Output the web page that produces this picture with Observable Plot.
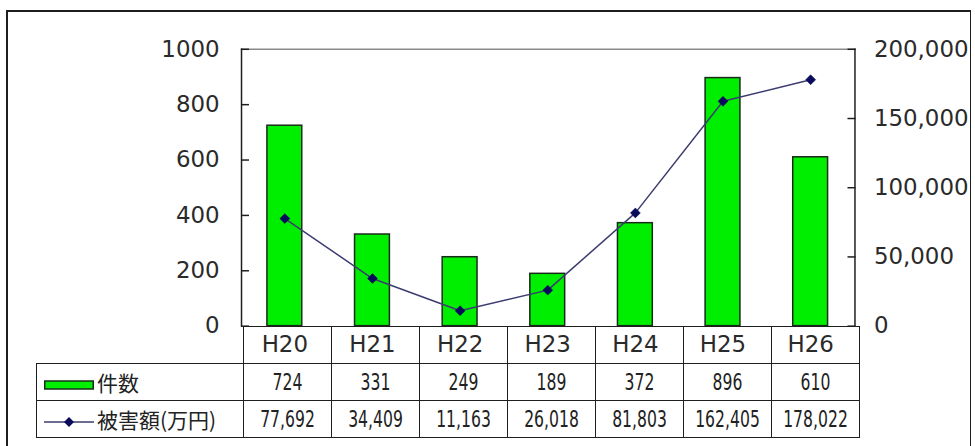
<!DOCTYPE html>
<html>
<head>
<meta charset="utf-8">
<script src="https://cdn.jsdelivr.net/npm/d3@7"></script>
<script src="https://cdn.jsdelivr.net/npm/@observablehq/plot@0.6"></script>
<style>
  html, body { margin: 0; padding: 0; background: #fff; }
  #wrap { position: relative; width: 971px; height: 446px; overflow: hidden; background: #fff; }
  #border { position: absolute; left: 6px; top: 10px; width: 966px; height: 460px; border: 2px solid #1e1e1e; box-sizing: border-box; pointer-events: none; }
  #chart { position: absolute; left: 0; top: 0; }
  #tbl { position: absolute; left: 36px; top: 326px; width: 823px; border-collapse: collapse; table-layout: fixed; }
  #tbl td { border: 1.5px solid #1e1e1e; height: 36px; padding: 0; text-align: center; vertical-align: middle;
            font-family: "DejaVu Sans", sans-serif; font-size: 23px; color: #222; white-space: nowrap; overflow: visible; }
  #tbl td span.n { display: block; margin: 0 -24px; text-align: center; transform: scaleX(0.68); transform-origin: center; }
  #tbl td.blank { border-top: none; border-left: none; }
  #tbl td.lg { text-align: left; padding-left: 7px; font-family: "Noto Sans CJK JP", sans-serif; font-size: 21px; }
  #tbl td.lg svg { vertical-align: middle; margin-right: 3px; }
</style>
</head>
<body>
<div id="wrap">
  <div id="chart"></div>
  <table id="tbl"></table>
  <div id="border"></div>
</div>
<script>
const years = ["H20", "H21", "H22", "H23", "H24", "H25", "H26"];
const counts = [724, 331, 249, 189, 372, 896, 610];
const damages = [77692, 34409, 11163, 26018, 81803, 162405, 178022];
const countTicks = [0, 200, 400, 600, 800, 1000];
const damageTicks = [0, 50000, 100000, 150000, 200000];
const seriesNames = ["件数", "被害額(万円)"];

const barFill = "#00ee00";
const barStroke = "#1a2a1a";
const lineColor = "#3c3c70";
const dotColor = "#0a0a5c";

const data = years.map((year, i) => ({year, count: counts[i], damage: damages[i]}));
const y2 = d3.scaleLinear([0, 200000], [0, 1000]);
const fmt = d3.format(",");

const chart = Plot.plot({
  width: 975,
  height: 446,
  marginLeft: 242,
  marginRight: 117,
  marginTop: 49,
  marginBottom: 119,
  style: {fontFamily: "DejaVu Sans", fontSize: "23px", color: "#2a2a2a", background: "transparent", overflow: "visible"},
  x: {domain: years, paddingInner: 0.6, paddingOuter: 0.3, align: 0.5, label: null},
  y: {domain: [0, 1000], label: null},
  marks: [
    Plot.frame({anchor: "top", stroke: "#8a8a8a", strokeWidth: 1.5}),
    Plot.barY(data, {x: "year", y: "count", fill: barFill, stroke: barStroke, strokeWidth: 1.5}),
    Plot.line(data, {x: "year", y: d => y2(d.damage), stroke: lineColor, strokeWidth: 1.5}),
    Plot.dot(data, {x: "year", y: d => y2(d.damage), symbol: "diamond2", r: 4.5, fill: dotColor, stroke: dotColor, strokeWidth: 0.5}),
    Plot.frame({anchor: "left", stroke: "#1e1e1e", strokeWidth: 1.5}),
    Plot.frame({anchor: "right", stroke: "#1e1e1e", strokeWidth: 1.5}),
    Plot.axisY(countTicks, {anchor: "left", tickSize: 8, dx: 8, tickPadding: 22, tickFormat: d => String(d), label: null, stroke: "#1e1e1e", strokeWidth: 1.5}),
    Plot.axisY(damageTicks, {anchor: "right", y: d => y2(d), tickSize: 8, dx: -8, tickPadding: 19, tickFormat: d => fmt(d), label: null, stroke: "#1e1e1e", strokeWidth: 1.5}),
    Plot.axisX({tickSize: 0, tickPadding: 10, label: null})
  ]
});
document.getElementById("chart").appendChild(chart);

// data table below the plot
const tbl = document.getElementById("tbl");
const colgroup = document.createElement("colgroup");
[207, ...years.map(() => 88)].forEach(w => {
  const c = document.createElement("col");
  c.style.width = w + "px";
  colgroup.appendChild(c);
});
tbl.appendChild(colgroup);

const r0 = tbl.insertRow();
const blank = r0.insertCell(); blank.className = "blank";
years.forEach(() => r0.insertCell());

const swBar = `<svg width="50" height="10"><rect x="0.75" y="1" width="48.5" height="8" fill="${barFill}" stroke="${barStroke}" stroke-width="1.5"/></svg>`;
const swLine = `<svg width="50" height="12"><line x1="0" y1="6" x2="50" y2="6" stroke="${lineColor}" stroke-width="1.5"/><path d="M25,1 L30,6 L25,11 L20,6 Z" fill="${dotColor}"/></svg>`;

function numCell(row, text) {
  const c = row.insertCell();
  const s = document.createElement("span");
  s.className = "n";
  s.textContent = text;
  c.appendChild(s);
}

const r1 = tbl.insertRow();
const l1 = r1.insertCell(); l1.className = "lg"; l1.innerHTML = swBar + seriesNames[0];
counts.forEach(v => numCell(r1, String(v)));

const r2 = tbl.insertRow();
const l2 = r2.insertCell(); l2.className = "lg"; l2.innerHTML = swLine + seriesNames[1];
damages.forEach(v => numCell(r2, fmt(v)));
</script>
</body>
</html>
